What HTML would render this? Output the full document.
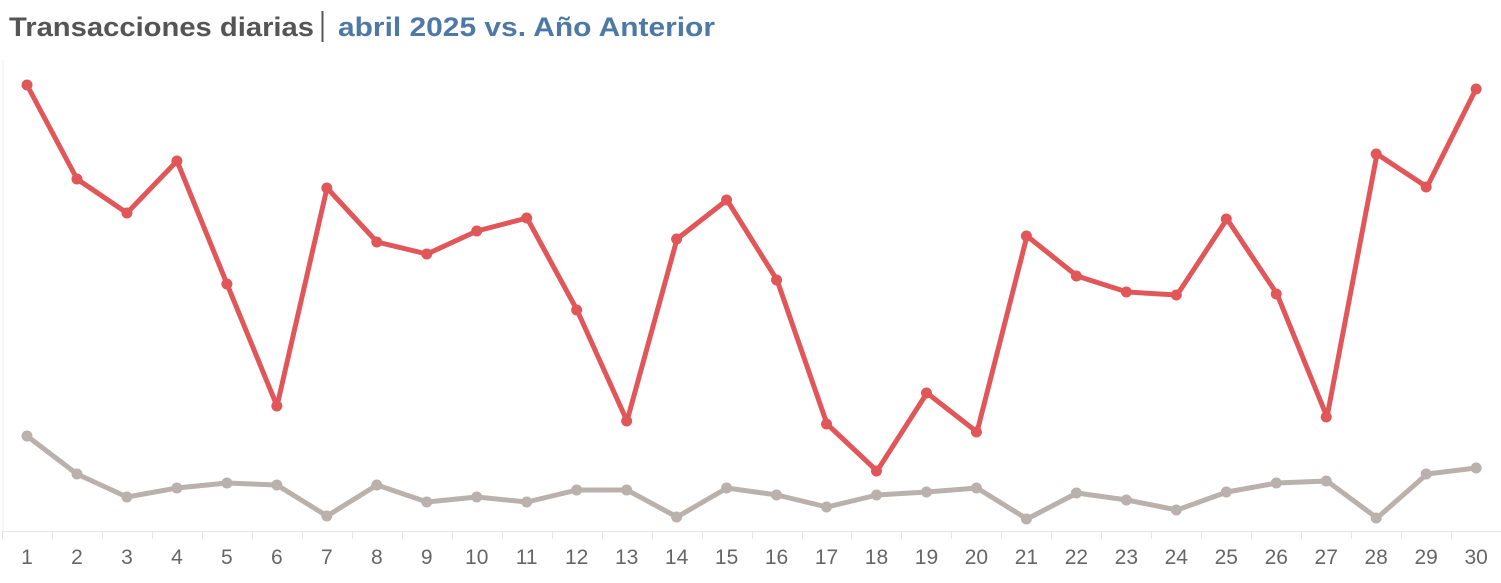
<!DOCTYPE html>
<html><head><meta charset="utf-8"><style>
html,body{margin:0;padding:0;background:#fff;width:1501px;height:583px;overflow:hidden}
svg{display:block}
</style></head><body>
<svg width="1501" height="583" xmlns="http://www.w3.org/2000/svg" font-family="Liberation Sans, DejaVu Sans, sans-serif">
<text x="9" y="36" font-size="27" font-weight="bold" fill="#555" textLength="305" lengthAdjust="spacingAndGlyphs">Transacciones diarias</text>
<rect x="321.5" y="11" width="2" height="31" fill="#555"/>
<text x="338" y="36" font-size="27" font-weight="bold" fill="#4e79a7" textLength="377" lengthAdjust="spacingAndGlyphs">abril 2025 vs. Año Anterior</text>
<line x1="3" y1="60" x2="3" y2="531" stroke="#eee" stroke-width="1"/>
<line x1="3" y1="531.5" x2="1501" y2="531.5" stroke="#e6e6e6" stroke-width="1"/>
<g stroke="#e6e6e6" stroke-width="1" id="ticks"></g>
<polyline fill="none" stroke="#bab0ac" stroke-width="5" stroke-linejoin="round" points="27,436 77,474 127,497 177,488 227,483 277,485 327,516 377,485 427,502 477,497 527,502 577,490 627,490 677,517 727,488 777,495 827,507 877,495 927,492 977,488 1027,519 1077,493 1127,500 1177,510 1227,492 1277,483 1327,481 1377,518 1427,474 1476,468"/>
<polyline fill="none" stroke="#e15759" stroke-width="5" stroke-linejoin="round" points="27,85 77,179 127,213 177,161 227,284 277,406 327,188 377,242 427,254 477,231 527,218 577,310 627,421 677,239 727,200 777,280 827,424 877,471 927,393 977,432 1027,236 1077,276 1127,292 1177,295 1227,219 1277,294 1327,417 1377,154 1427,187 1476,89"/>
<g id="dots"></g>
<g id="labels" font-size="21" fill="#666" text-anchor="middle"></g>
</svg>
<script>
var ns="http://www.w3.org/2000/svg";
var r=[85,179,213,161,284,406,188,242,254,231,218,310,421,239,200,280,424,471,393,432,236,276,292,295,219,294,417,154,187,89];
var g=[436,474,497,488,483,485,516,485,502,497,502,490,490,517,488,495,507,495,492,488,519,493,500,510,492,483,481,518,474,468];
var d=document.getElementById('dots'),l=document.getElementById('labels'),t=document.getElementById('ticks');
for(var i=0;i<30;i++){var x=27+i*49.97;
 [[g[i],'#bab0ac'],[r[i],'#e15759']].forEach(function(p){var c=document.createElementNS(ns,'circle');c.setAttribute('cx',x);c.setAttribute('cy',p[0]);c.setAttribute('r',5.5);c.setAttribute('fill',p[1]);d.appendChild(c);});
 var tx=document.createElementNS(ns,'text');tx.setAttribute('x',x);tx.setAttribute('y',564);tx.textContent=i+1;l.appendChild(tx);
 var ln=document.createElementNS(ns,'line');var lx=Math.round(x-25)+0.5;ln.setAttribute('x1',lx);ln.setAttribute('x2',lx);ln.setAttribute('y1',531);ln.setAttribute('y2',539);t.appendChild(ln);}
</script>
</body></html>
